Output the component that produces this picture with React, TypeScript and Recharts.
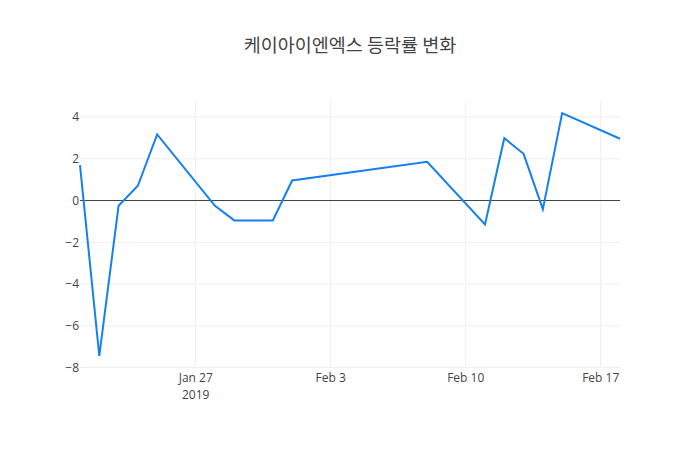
import React from 'react'
import { LineChart, Line, XAxis, YAxis, ReferenceLine } from 'recharts'

// 날짜 (2019)
const dates = [
  '2019-01-21', '2019-01-22', '2019-01-23', '2019-01-24', '2019-01-25',
  '2019-01-28', '2019-01-29', '2019-01-31', '2019-02-01', '2019-02-08',
  '2019-02-11', '2019-02-12', '2019-02-13', '2019-02-14', '2019-02-15', '2019-02-18'
]

// 등락률 (%)
const changes = [
  1.7, -7.44, -0.25, 0.71, 3.17,
  -0.25, -0.95, -0.95, 0.96, 1.86,
  -1.14, 2.99, 2.24, -0.41, 4.19, 2.96
]

const xTicks = ['2019-01-27', '2019-02-03', '2019-02-10', '2019-02-17']
const yTicks = [-8, -6, -4, -2, 0, 2, 4]

const toTime = (d: string) => new Date(d + 'T00:00:00Z').getTime()
const MONTHS = ['Jan', 'Feb', 'Mar', 'Apr', 'May', 'Jun', 'Jul', 'Aug', 'Sep', 'Oct', 'Nov', 'Dec']

const data = dates.map((d, i) => ({ t: toTime(d), v: changes[i] }))

const FONT = '"Open Sans", "Noto Sans", sans-serif'

const XTick = (props: any) => {
  const { x, y, payload, index } = props
  const d = new Date(payload.value)
  const label = `${MONTHS[d.getUTCMonth()]} ${d.getUTCDate()}`
  return (
    <g transform={`translate(${x},${y})`}>
      <text x={0} y={0} dy={10} textAnchor="middle" fill="#444" fontSize={12} fontFamily={FONT}>
        {label}
      </text>
      {index === 0 && (
        <text x={0} y={0} dy={27} textAnchor="middle" fill="#444" fontSize={12} fontFamily={FONT}>
          2019
        </text>
      )}
    </g>
  )
}

export default function App() {
  return (
    <div style={{ position: 'absolute', left: 0, top: 0, width: 700, height: 450, background: '#fff' }}>
      <div
        style={{
          position: 'absolute',
          top: 31,
          width: 700,
          textAlign: 'center',
          fontSize: 18.5,
          color: '#444',
          fontFamily: '"Noto Sans CJK KR", "Open Sans", sans-serif'
        }}
      >
        케이아이엔엑스 등락률 변화
      </div>
      <LineChart
        width={700}
        height={450}
        data={data}
        margin={{ top: 101, right: 80, bottom: 52, left: 0 }}
      >
        {xTicks.map(t => (
          <ReferenceLine key={t} x={toTime(t)} stroke="#eee" strokeWidth={1} />
        ))}
        {yTicks.filter(v => v !== 0).map(v => (
          <ReferenceLine key={v} y={v} stroke="#eee" strokeWidth={1} />
        ))}
        <XAxis
          dataKey="t"
          type="number"
          scale="time"
          domain={[toTime('2019-01-21'), toTime('2019-02-18')]}
          ticks={xTicks.map(toTime)}
          tick={<XTick />}
          tickLine={false}
          tickSize={0}
          axisLine={false}
          height={30}
          tickMargin={4}
        />
        <YAxis
          type="number"
          domain={[-8.02, 4.77]}
          ticks={yTicks}
          tickFormatter={(v: number) => (v < 0 ? `\u2212${Math.abs(v)}` : `${v}`)}
          tick={{ fill: '#444', fontSize: 12, fontFamily: FONT }}
          tickLine={false}
          tickSize={0}
          axisLine={false}
          width={80}
          tickMargin={1}
        />
        <ReferenceLine y={0} stroke="#444" strokeWidth={1} shapeRendering="crispEdges" />
        <Line
          type="linear"
          dataKey="v"
          stroke="#1580ee"
          strokeWidth={2}
          dot={false}
          isAnimationActive={false}
        />
      </LineChart>
    </div>
  )
}
